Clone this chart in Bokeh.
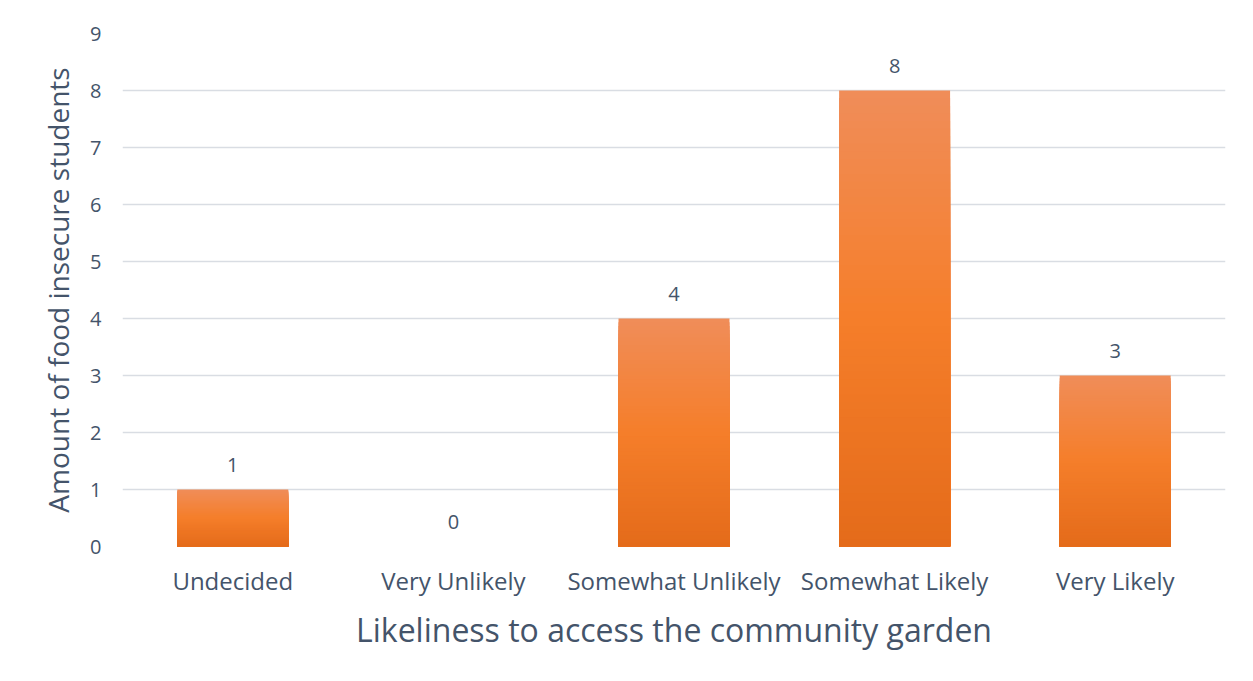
import numpy as np
from bokeh.plotting import figure
from bokeh.models import ColumnDataSource, FactorRange, Range1d, LabelSet, FixedTicker
from bokeh.core.properties import value
from bokeh.embed import file_html
from bokeh.resources import INLINE

# ---- data ----
categories = ["Undecided", "Very Unlikely", "Somewhat Unlikely", "Somewhat Likely", "Very Likely"]
counts = [1, 0, 4, 8, 3]
y_ticks = [0, 1, 2, 3, 4, 5, 6, 7, 8, 9]
x_title = "Likeliness to access the community garden"
y_title = "Amount of food insecure students"

# ---- style ----
FONT = "Open Sans"
TXT = "#44546A"
GRID = "#D9DDE3"
# gradient stops (bottom -> middle -> top) for the bars
stop_t = [0.0, 0.5, 1.0]
stop_rgb = [(228, 107, 26), (245, 126, 42), (240, 141, 89)]
N_SLICES = 60

def hexcol(t):
    r = np.interp(t, stop_t, [c[0] for c in stop_rgb])
    g = np.interp(t, stop_t, [c[1] for c in stop_rgb])
    b = np.interp(t, stop_t, [c[2] for c in stop_rgb])
    return "#%02x%02x%02x" % (int(round(r)), int(round(g)), int(round(b)))

# overlapping bars drawn tallest-first so that there are no seams
xs, tops, cols = [], [], []
for i in range(N_SLICES, 0, -1):
    frac = i / N_SLICES
    col = hexcol((i - 0.5) / N_SLICES)
    for cat, v in zip(categories, counts):
        if v <= 0:
            continue
        xs.append(cat)
        tops.append(v * frac)
        cols.append(col)

bar_src = ColumnDataSource(dict(x=xs, top=tops, color=cols))
lab_src = ColumnDataSource(dict(x=categories, y=counts, txt=[str(c) for c in counts]))

p = figure(
    width=1237, height=665,
    x_range=FactorRange(*categories),
    y_range=Range1d(0, 9),
    output_backend="svg", toolbar_location=None,
    min_border_left=122, min_border_right=12,
    min_border_top=33, min_border_bottom=119,
)
p.outline_line_color = None
p.background_fill_color = "white"
p.border_fill_color = "white"

p.vbar(x="x", bottom=0, top="top", width=0.503, source=bar_src,
       fill_color="color", line_color=None)

labels = LabelSet(x="x", y="y", text="txt", source=lab_src,
                  text_align="center", text_baseline="middle", y_offset=25,
                  text_font=value(FONT), text_font_size="20px", text_color=TXT)
p.add_layout(labels)

# grid
p.xgrid.grid_line_color = None
p.ygrid.grid_line_color = GRID
p.ygrid.grid_line_width = 1.5
p.ygrid.ticker = FixedTicker(ticks=y_ticks)

# y axis
p.yaxis.ticker = FixedTicker(ticks=y_ticks)
p.yaxis.axis_line_color = None
p.yaxis.major_tick_line_color = None
p.yaxis.minor_tick_line_color = None
p.yaxis.major_tick_out = 0
p.yaxis.major_tick_in = 0
p.yaxis.minor_tick_out = 0
p.yaxis.major_label_standoff = 21
p.yaxis.major_label_text_font = FONT
p.yaxis.major_label_text_font_size = "20px"
p.yaxis.major_label_text_color = TXT
p.yaxis.axis_label = y_title
p.yaxis.axis_label_text_font = FONT
p.yaxis.axis_label_text_font_size = "28px"
p.yaxis.axis_label_text_font_style = "normal"
p.yaxis.axis_label_text_color = TXT
p.yaxis.axis_label_standoff = 10

# x axis
p.xaxis.axis_line_color = None
p.xaxis.major_tick_line_color = None
p.xaxis.minor_tick_line_color = None
p.xaxis.major_tick_out = 0
p.xaxis.major_tick_in = 0
p.xaxis.minor_tick_out = 0
p.xaxis.major_label_standoff = 17
p.xaxis.major_label_text_font = FONT
p.xaxis.major_label_text_font_size = "24px"
p.xaxis.major_label_text_color = TXT
p.xaxis.axis_label = x_title
p.xaxis.axis_label_text_font = FONT
p.xaxis.axis_label_text_font_size = "32px"
p.xaxis.axis_label_text_font_style = "normal"
p.xaxis.axis_label_text_color = TXT
p.xaxis.axis_label_standoff = 8

open("out.html", "w").write(file_html(p, INLINE))
